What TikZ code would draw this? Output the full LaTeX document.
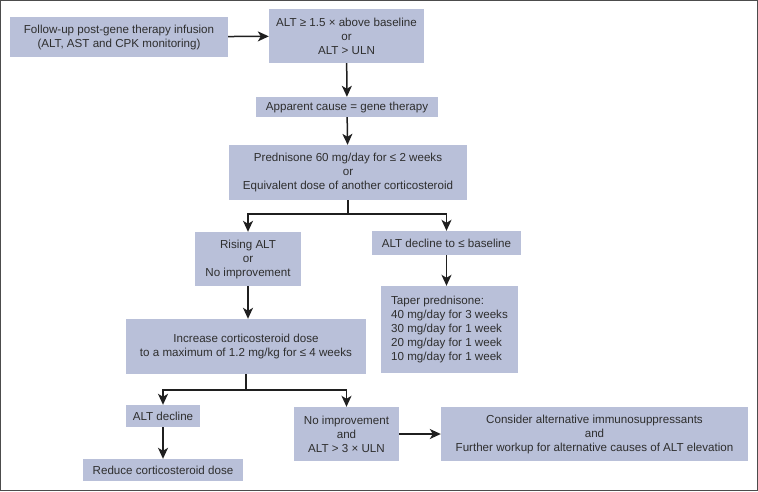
\documentclass[tikz,border=0pt]{standalone}
\usepackage{fontspec}
\setmainfont{Liberation Sans}
\usetikzlibrary{arrows.meta}
\definecolor{boxfill}{HTML}{B9C0D9}
\definecolor{inkgray}{HTML}{2E2E2E}
\tikzset{
  stepbox/.style={fill=boxfill, draw=none, align=center, inner sep=2pt,
    text=inkgray, font=\fontsize{11.6}{14}\selectfont},
  flow/.style={-{Stealth[length=11pt,width=10pt,inset=3pt]}, line width=1.5pt, draw=black!88},
}
\begin{document}
\begin{tikzpicture}[x=1pt, y=-1pt]
    % frame
    \draw[line width=1.2pt, black!70] (0.6,0.6) rectangle (757.4,490.4);
    % boxes
    \node[stepbox, minimum width=218pt, minimum height=40pt] (infusion) at (119,37)
        {Follow-up post-gene therapy infusion\\(ALT, AST and CPK monitoring)};
    \node[stepbox, minimum width=155pt, minimum height=54pt] (altrise) at (346.5,36)
        {ALT ≥ 1.5 × above baseline\\or\\ALT > ULN};
    \node[stepbox, minimum width=182pt, minimum height=20pt] (cause) at (347,107)
        {Apparent cause = gene therapy};
    \node[stepbox, minimum width=238pt, minimum height=55pt] (prednisone) at (348,172.5)
        {Prednisone 60 mg/day for ≤ 2 weeks\\or\\Equivalent dose of another corticosteroid};
    \node[stepbox, minimum width=106pt, minimum height=54pt] (rising) at (248,259)
        {Rising ALT\\or\\No improvement};
    \node[stepbox, minimum width=149pt, minimum height=24pt] (decline) at (446.5,243)
        {ALT decline to ≤ baseline};
    \node[stepbox, align=left, minimum width=137pt, minimum height=87pt] (taper) at (449.5,329.5)
        {Taper prednisone:\\40 mg/day for 3 weeks\\30 mg/day for 1 week\\20 mg/day for 1 week\\10 mg/day for 1 week};
    \node[stepbox, minimum width=240pt, minimum height=55pt] (increase) at (246,346.5)
        {Increase corticosteroid dose\\to a maximum of 1.2 mg/kg for ≤ 4 weeks};
    \node[stepbox, minimum width=74pt, minimum height=22pt] (altdecline) at (163,416)
        {ALT decline};
    \node[stepbox, minimum width=160pt, minimum height=22pt] (reduce) at (163,470)
        {Reduce corticosteroid dose};
    \node[stepbox, minimum width=105pt, minimum height=54pt] (noimprove) at (346.5,434)
        {No improvement\\and\\ALT > 3 × ULN};
    \node[stepbox, minimum width=307pt, minimum height=54pt] (alternative) at (594.5,434)
        {Consider alternative immunosuppressants\\and\\Further workup for alternative causes of ALT elevation};
    % arrows
    \draw[flow] (infusion) -- (altrise);
    \draw[flow] (altrise) -- (cause);
    \draw[flow] (cause) -- (prednisone);
    \draw[flow] (prednisone.south) -- ++(0,14) -| (rising.north);
    \draw[flow] (prednisone.south) -- ++(0,14) -| (decline.north);
    \draw[flow] (decline) -- (decline |- taper.north);
    \draw[flow] (rising) -- (rising |- increase.north);
    \draw[flow] (increase.south) -- ++(0,16) -| (altdecline.north);
    \draw[flow] (increase.south) -- ++(0,16) -| (noimprove.north);
    \draw[flow] (altdecline) -- (reduce);
    \draw[flow] (noimprove) -- (alternative);
\end{tikzpicture}
\end{document}
